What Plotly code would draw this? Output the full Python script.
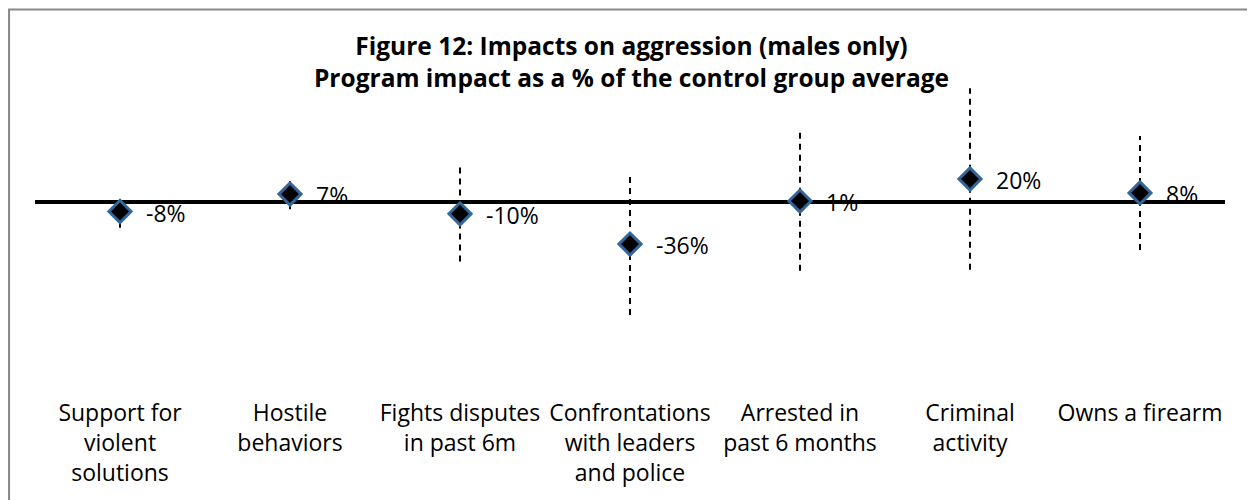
import plotly.graph_objects as go

# data (program impact, % of control group average)
categories = [
    "Support for<br>violent<br>solutions",
    "Hostile<br>behaviors",
    "Fights disputes<br>in past 6m",
    "Confrontations<br>with leaders<br>and police",
    "Arrested in<br>past 6 months",
    "Criminal<br>activity",
    "Owns a firearm",
]
impact = [-8, 7, -10, -36, 1, 20, 8]
ci_half = [14, 13, 41, 61, 60, 78, 49]

FONT = "Open Sans"

# dashed confidence-interval lines, one segment per category
ci_x, ci_y = [], []
for c, v, e in zip(categories, impact, ci_half):
    ci_x += [c, c, None]
    ci_y += [v - e, v + e, None]

fig = go.Figure()
fig.add_trace(go.Scatter(
    x=ci_x, y=ci_y, mode="lines",
    line=dict(color="black", width=2, dash="6px,5px"),
    hoverinfo="skip", showlegend=False))

fig.add_trace(go.Scatter(
    x=categories, y=impact,
    mode="markers",
    marker=dict(symbol="diamond", size=17, color="black",
                line=dict(color="#33669A", width=3)),
    showlegend=False))

# data labels to the right of each marker
for c, v in zip(categories, impact):
    fig.add_annotation(x=c, y=v, text=f"{v}%", showarrow=False,
                       xanchor="left", yanchor="middle", xshift=24, yshift=-1,
                       font=dict(family=FONT, size=23, color="black"))

# outer chart-area border (runs past the right/bottom edges like the source crop)
fig.add_shape(type="rect", xref="paper", yref="paper", layer="above",
              x0=-0.0218, x1=1.1, y0=-0.5, y1=1.2226,
              line=dict(color="#878787", width=2), fillcolor="rgba(0,0,0,0)")

# page body has an 8px margin, so the figure is 8px smaller than the window
fig.update_layout(
    width=1247, height=492,
    paper_bgcolor="white", plot_bgcolor="white",
    margin=dict(l=27, r=30, t=72, b=101),
    font=dict(family=FONT, size=23, color="black"),
    title=dict(
        text="<b>Figure 12: Impacts on aggression (males only)<br>"
             "Program impact as a % of the control group average</b>",
        x=0.5, xanchor="center", y=0.905, yanchor="top", yref="container",
        font=dict(family=FONT, size=24.5, color="black")),
)

fig.update_xaxes(
    type="category", range=[-0.5, 6.5],
    showgrid=False, showline=False, ticks="", zeroline=False,
    tickfont=dict(family=FONT, size=23, color="black"), tickangle=0)

fig.update_yaxes(
    range=[-167.5, 105.1],
    showgrid=False, showticklabels=False, ticks="",
    zeroline=True, zerolinecolor="black", zerolinewidth=4)

fig.write_html("out.html")
